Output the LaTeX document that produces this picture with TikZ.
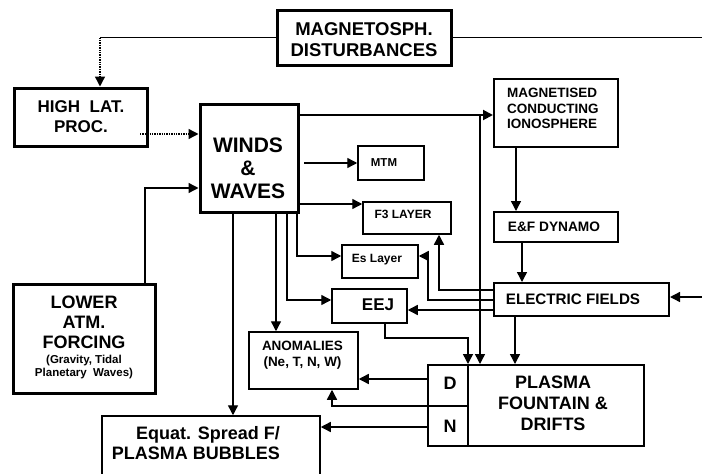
\documentclass[tikz,border=0pt]{standalone}
\usepackage{fontspec}
\setmainfont{Liberation Sans}
\usetikzlibrary{arrows.meta}
\newcommand\fsz[2]{\fontsize{#1}{#2}\selectfont\bfseries}
\begin{document}
\begin{tikzpicture}[x=1pt,y=-1pt,
  thickbox/.style={draw, line width=3pt, inner sep=0pt},
  medbox/.style={draw, line width=2pt, inner sep=0pt},
  thinbox/.style={draw, line width=1.5pt, inner sep=0pt},
  txt/.style={inner sep=0pt, align=center},
  conn/.style={line width=1.4pt},
  tip/.style={-{Triangle[length=10pt,width=10pt]}},
  arr/.style={conn, tip}]
\useasboundingbox (0,0) rectangle (702,474);
\clip (0,0) rectangle (702,474);
\fill[white] (0,0) rectangle (702,474);

% boxes
\node[thickbox, minimum width=174pt, minimum height=55pt] (mag) at (364,37.5) {};
\node[thickbox, minimum width=133pt, minimum height=58pt] (high) at (80.5,117) {};
\node[thickbox, minimum width=98pt, minimum height=108pt] (winds) at (249,158) {};
\node[thickbox, minimum width=142pt, minimum height=109pt] (lower) at (84,338.5) {};
\node[medbox, minimum width=124pt, minimum height=68pt] (magion) at (556,113) {};
\node[thinbox, minimum width=66pt, minimum height=34pt] (mtm) at (391,163) {};
\node[thinbox, minimum width=88pt, minimum height=32pt] (f3) at (407,218) {};
\node[thinbox, minimum width=76pt, minimum height=33pt] (es) at (380,261.5) {};
\node[thinbox, minimum width=75pt, minimum height=34pt] (eej) at (369.5,306) {};
\node[thinbox, minimum width=109pt, minimum height=57pt] (anom) at (303.5,360.5) {};
\node[thinbox, minimum width=218pt, minimum height=80pt] (equat) at (211,456) {};
\node[medbox, minimum width=124pt, minimum height=30pt] (dyn) at (556,227) {};
\node[medbox, minimum width=175pt, minimum height=33pt] (ef) at (581.5,299.5) {};
\node[medbox, minimum width=216pt, minimum height=81pt] (plasma) at (536,405.5) {};
\draw[line width=2pt] (plasma.north -| 468,0) -- (plasma.south -| 468,0);
\draw[line width=1.5pt] (plasma.west |- 0,406) -- (468,406);

% texts
\node[txt, font=\fsz{18.5}{21}] (tmag) at (364,40) {MAGNETOSPH.\\DISTURBANCES};
\node[txt, font=\fsz{17}{20}] (thigh) at (81,117) {HIGH\ \ LAT.\\PROC.};
\node[txt, font=\fsz{21}{23}] (twinds) at (248,168) {WINDS\\\&\\WAVES};
\node[txt, font=\fsz{18}{20}] (tlower) at (84,322) {LOWER\\ATM.\\FORCING};
\node[txt, font=\fsz{11.5}{13}] (tlower2) at (84,367.5) {(Gravity, Tidal\\Planetary\ \ Waves)};
\node[txt, font=\fsz{13.5}{15.5}, align=left, anchor=west] (tmagion) at (507,108.5) {MAGNETISED\\CONDUCTING\\IONOSPHERE};
\node[txt, font=\fsz{11.5}{13}] (tmtm) at (384,163) {MTM};
\node[txt, font=\fsz{12}{14}] (tf3) at (403,214) {F3 LAYER};
\node[txt, font=\fsz{12}{14}] (tes) at (377,260) {Es Layer};
\node[txt, font=\fsz{17}{19}] (teej) at (378,305) {EEJ};
\node[txt, font=\fsz{13.5}{16}] (tanom) at (302.5,355.5) {ANOMALIES\\(Ne, T, N, W)};
\node[txt, font=\fsz{13.7}{16}] (tdyn) at (554,227) {E\&F DYNAMO};
\node[txt, font=\fsz{15.2}{17}] (tef) at (573,299) {ELECTRIC FIELDS};
\node[txt, font=\fsz{18}{21}] (tplasma) at (553,403) {PLASMA\\FOUNTAIN \&\\DRIFTS};
\node[txt, font=\fsz{18}{20}] (tD) at (450,383) {D};
\node[txt, font=\fsz{18}{20}] (tN) at (450,426) {N};
\node[txt, font=\fsz{18}{20}, align=right, anchor=east] (tequat) at (280,443.5) {Equat. Spread F/\\PLASMA BUBBLES};

% free ends
\coordinate (edgeR1) at (702,37.5);
\coordinate (edgeR2) at (702,297);
\coordinate (mtmsrc) at (304,163);
\coordinate (br) at (480,115);
\coordinate (hsrc) at (140,134);

% connectors
\draw[conn] (mag.west) -- (mag.west -| 100,0);
\draw[conn, densely dotted, tip] (mag.west -| 100,0) -- (high.north -| 100,0);
\draw[conn] (mag.east) -- (edgeR1);
\draw[conn, densely dotted, tip] (hsrc) -- (winds.west |- hsrc);
\draw[arr] (lower.north -| 145,0) |- (winds.west |- 0,188);
\draw[arr, line width=2pt] (winds.east |- 0,115) -- (magion.west |- 0,115);
\draw[arr] (br) -- (plasma.north -| 480,0);
\draw[arr] (mtmsrc) -- (mtm.west);
\draw[arr] (winds.east |- 0,204) -- (f3.west |- 0,204);
\draw[arr] (winds.south -| 233,0) -- (equat.north -| 233,0);
\draw[arr] (winds.south -| 276,0) -- (anom.north -| 276,0);
\draw[arr] (winds.south -| 287,0) |- (eej.west |- 0,300);
\draw[arr] (winds.south -| 297,0) |- (es.west |- 0,256);
\draw[arr] (magion.south -| 516,0) -- (dyn.north -| 516,0);
\draw[arr] (dyn.south -| 522,0) -- (ef.north -| 522,0);
\draw[arr] (edgeR2) -- (ef.east |- 0,297);
\draw[arr] (ef.west |- 0,290) -| (f3.south -| 439,0);
\draw[arr] (ef.west |- 0,300) -| (428,256) -- (es.east |- 0,256);
\draw[arr] (ef.west |- 0,310) -- (eej.east |- 0,310);
\draw[arr] (eej.south -| 385,0) |- (468,338) -- (plasma.north -| 468,0);
\draw[arr] (ef.south -| 515,0) -- (plasma.north -| 515,0);
\draw[arr] (plasma.west |- 0,379) -- (anom.east |- 0,379);
\draw[arr] (plasma.west |- 0,406) -| (anom.south -| 332,0);
\draw[arr] (plasma.west |- 0,427) -- (equat.east |- 0,427);
\end{tikzpicture}
\end{document}
